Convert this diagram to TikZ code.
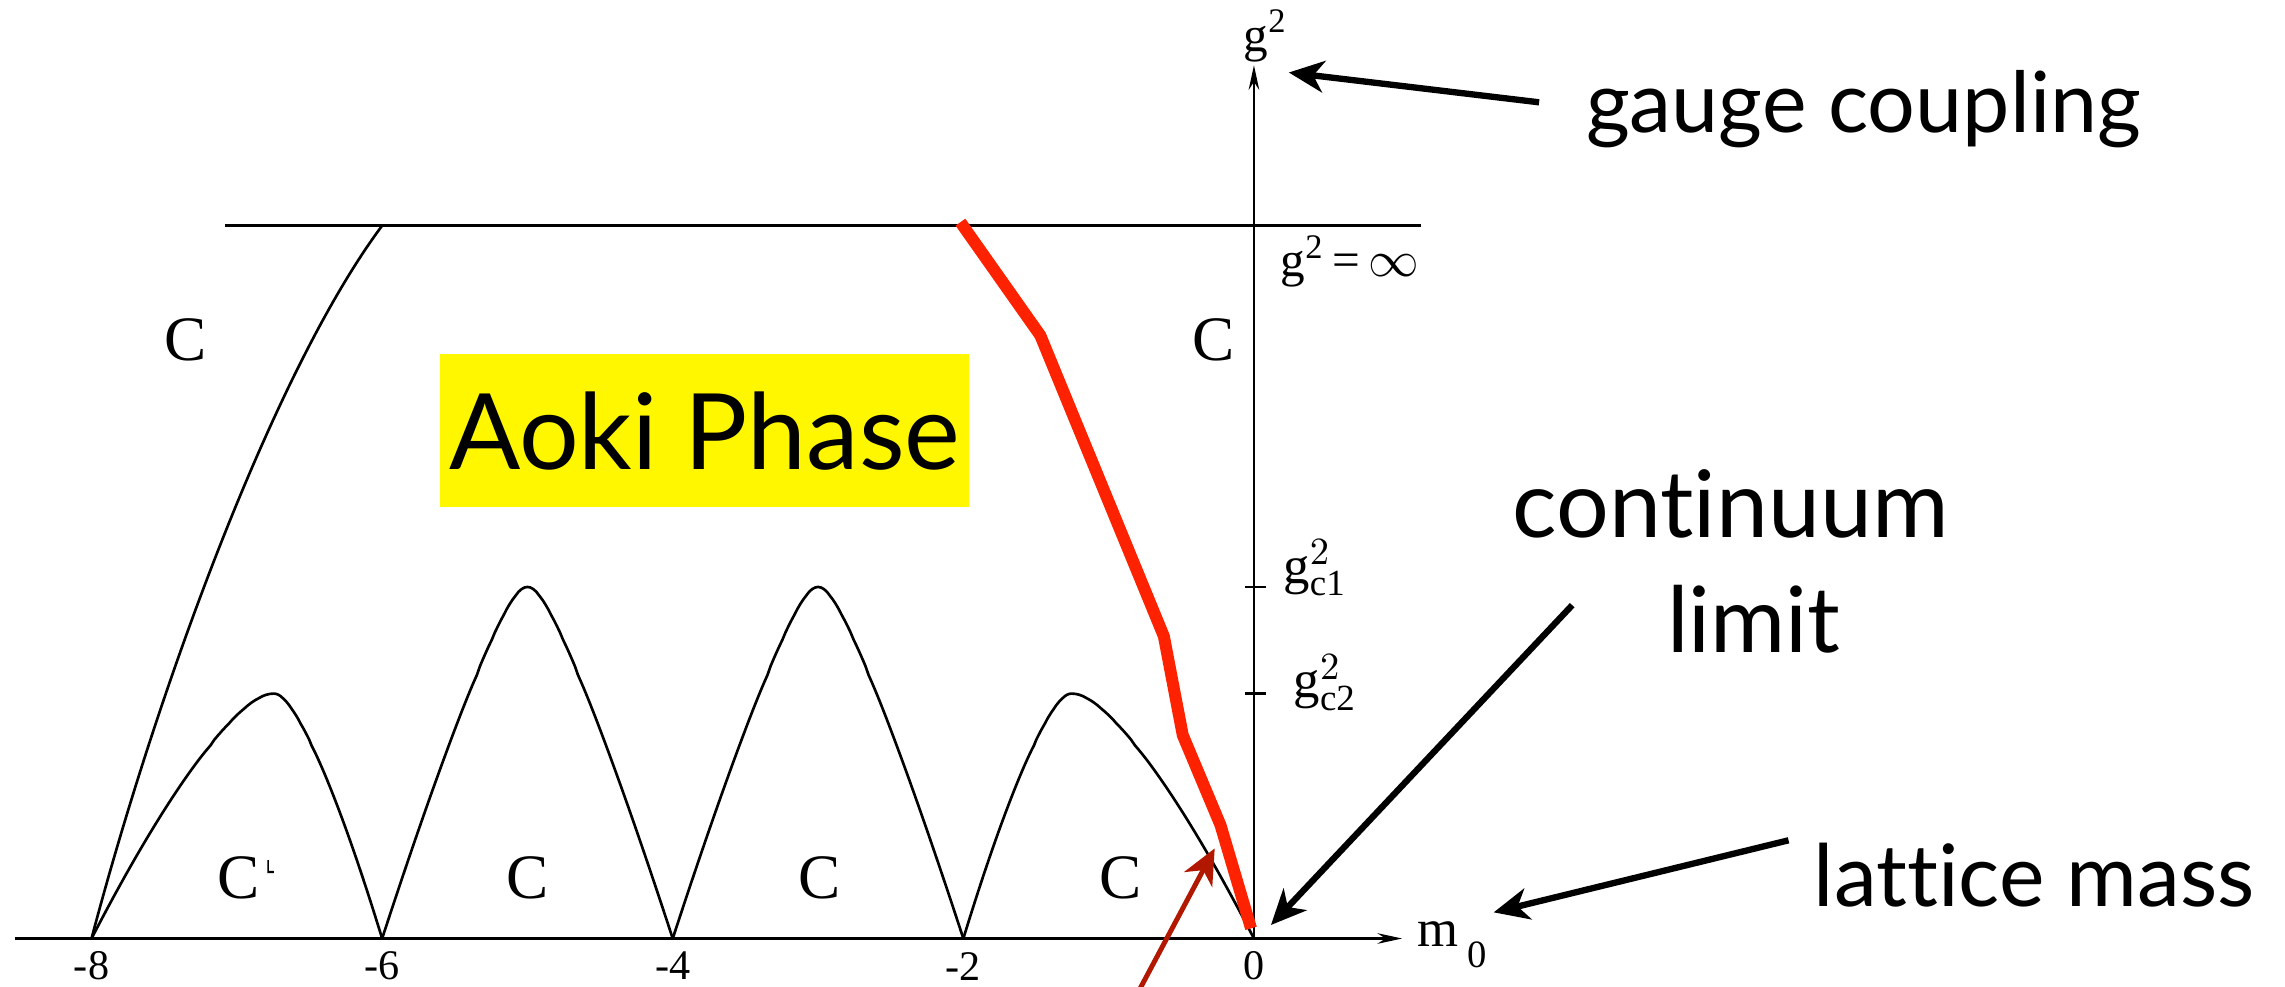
\documentclass[tikz,border=0pt]{standalone}
\usepackage{fontspec}
\setmainfont{Liberation Serif}
\newfontfamily\gillfont[Ligatures=NoCommon]{Lato}
\usetikzlibrary{arrows.meta}
\definecolor{aokiyellow}{RGB}{255,247,0}
\definecolor{critred}{RGB}{255,34,0}
\definecolor{pointred}{RGB}{178,24,0}

\begin{document}
\begin{tikzpicture}[x=1.453cm, y=1.453cm,
    declare function={hump(\t,\q)=((1.01)^(\q/2)-(\t*\t+0.01)^(\q/2))/((1.01)^(\q/2)-0.1^\q);},
    axis/.style={line width=0.8pt, -{Stealth[length=7pt,width=3pt]}},
    curve/.style={line width=0.75pt},
    callout/.style={line width=1.8pt, -{Stealth[length=10pt,width=9pt,inset=3pt]}},
    note/.style={font=\gillfont\fontsize{24}{30}\selectfont, inner sep=2pt},
    region/.style={font=\fontsize{18}{18}\selectfont, inner sep=0pt},
    ticklab/.style={font=\fontsize{12}{12}\selectfont, inner sep=0pt}]
    \useasboundingbox (-8.63,-0.327) rectangle (7.096,6.459);

    % axes
    \coordinate (O) at (0,0);
    \draw[axis] (-8.53,0) -- (1.02,0);
    \draw[axis] (O) -- (0,6.01) coordinate (gtop);
    \node[font=\fontsize{15}{15}\selectfont, inner sep=0pt, anchor=west] (mlab) at (1.12,-0.04)
        {m\hspace{2.5pt}\raisebox{-6pt}{\fontsize{11}{11}\selectfont 0}};
    \node[font=\fontsize{14}{14}\selectfont, inner sep=0pt, anchor=south] (glab) at (0.08,6.03) {g\textsuperscript{2}};
    \foreach \m in {-8,-6,-4,-2,0}
        \node[ticklab] (tick\m) at (\m,-0.19) {\m};

    % strong coupling line and ticks
    \draw[curve] (-7.08,4.906) -- (1.15,4.906);
    \node[font=\fontsize{14}{14}\selectfont, inner sep=0pt] (ginf) at (0.66,4.66) {g\textsuperscript{2}\,=\,$\infty$};
    \draw[curve] (-0.06,2.42) -- (0.08,2.42);
    \draw[curve] (-0.06,1.686) -- (0.08,1.686);
    \node[font=\fontsize{15}{15}\selectfont, inner sep=0pt] (gcone) at (0.42,2.55) {$\mathrm{g}^{2}_{\mathrm{c1}}$};
    \node[font=\fontsize{15}{15}\selectfont, inner sep=0pt] (gctwo) at (0.49,1.76) {$\mathrm{g}^{2}_{\mathrm{c2}}$};

    % phase boundaries
    \draw[curve] (-8,0) .. controls (-7.55,1.7) and (-6.75,3.9) .. (-6,4.906);
    \foreach \lo/\pk/\hi/\hgt/\pw in {-8/-6.745/-6/1.686/1.4, -6/-5/-4/2.42/1.2,
                                      -4/-3/-2/2.42/1.2, -2/-1.255/0/1.686/1.4}
        \draw[curve] plot[domain=\lo:\pk, samples=50] (\x, {\hgt*hump((\pk-\x)/(\pk-\lo),\pw)})
            -- plot[domain=\pk:\hi, samples=50] (\x, {\hgt*hump((\x-\pk)/(\hi-\pk),\pw)});

    \node[region] (ctl) at (-7.35,4.12) {C};
    \node[region] (ctr) at (-0.28,4.12) {C};
    \node[region] (cb1) at (-6.99,0.42) {C};
    \node[region] (cb2) at (-5.0,0.42) {C};
    \node[region] (cb3) at (-2.99,0.42) {C};
    \node[region] (cb4) at (-0.92,0.42) {C};
    \fill (-6.79,0.45) -- ++(0,0.09) -- ++(0.01,0) -- ++(0,-0.075) -- ++(0.035,0) -- ++(0,-0.015) -- cycle;

    % critical line
    \draw[critred, line width=3.4pt] (-2.02,4.93) -- (-1.47,4.15) -- (-0.62,2.08)
        -- (-0.49,1.40) -- (-0.23,0.78) -- (-0.02,0.07);

    \node[fill=aokiyellow, minimum width=5.29cm, minimum height=1.53cm, inner sep=0pt,
          font=\gillfont\fontsize{30}{30}\selectfont] (aoki) at (-3.78,3.495) {Aoki Phase};

    % annotations
    \node[note, anchor=base] (gauge) at (4.195,5.544) {gauge coupling};
    \node[note, font=\gillfont\fontsize{26.5}{30}\selectfont, anchor=base] (cont) at (3.28,2.76) {continuum};
    \node[note, font=\gillfont\fontsize{26}{30}\selectfont, anchor=base] (limit) at (3.44,1.965) {limit};
    \node[note, font=\gillfont\fontsize{24.5}{30}\selectfont, anchor=base] (lattice) at (5.37,0.22) {lattice mass};

    \coordinate (gtip) at (0.24,5.96);
    \coordinate (ctip) at (0.117,0.093);
    \coordinate (ltip) at (1.65,0.18);
    \coordinate (ptip) at (-0.27,0.62);
    \coordinate (ptail) at (-0.84,-0.45);
    \draw[callout] ([shift={(-0.27,0.05)}]gauge.west) -- (gtip);
    \draw[callout] ([shift={(-0.60,0.10)}]limit.west) -- (ctip);
    \draw[callout] ([shift={(-0.12,0.24)}]lattice.west) -- (ltip);
    \draw[callout, pointred, line width=1.4pt] (ptail) -- (ptip);
\end{tikzpicture}
\end{document}
